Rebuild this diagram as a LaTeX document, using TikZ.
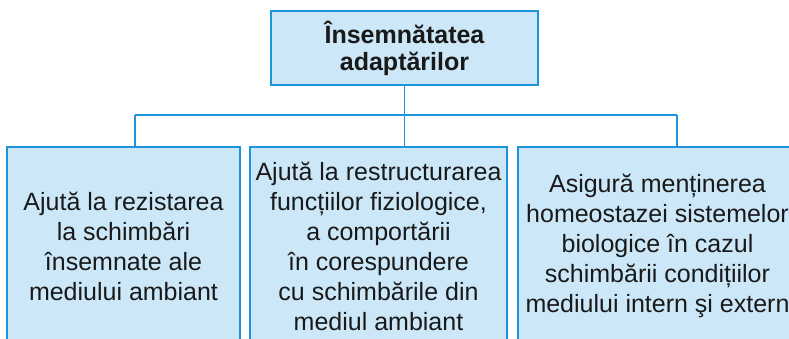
\documentclass[tikz,border=0pt]{standalone}
\usepackage{fontspec}
\setmainfont{Liberation Sans}
\definecolor{boxfill}{RGB}{204,232,248}
\definecolor{boxline}{RGB}{30,148,220}
\definecolor{txt}{RGB}{25,25,25}
\begin{document}
\begin{tikzpicture}[x=1pt,y=-1pt,
  box/.style={draw=boxline,fill=boxfill,line width=1.8pt,inner sep=0pt,align=center,text=txt},
  conn/.style={draw=boxline,line width=1.8pt},
  body/.style={font=\fontsize{25}{30}\selectfont}]
\useasboundingbox (0,0) rectangle (789,338);
\clip (0,0) rectangle (789,338);
\fill[white] (0,0) rectangle (789,338);
\node[box,minimum width=267pt,minimum height=74pt,font=\bfseries\fontsize{25}{27}\selectfont] (top) at (404.5,48) {Însemnătatea\\adaptărilor};
\node[box,body,minimum width=233pt,minimum height=198pt] (left) at (123.5,246) {Ajută la rezistarea\\la schimbări\\însemnate ale\\mediului ambiant};
\node[box,body,minimum width=257pt,minimum height=198pt] (mid) at (378.5,246) {Ajută la restructurarea\\funcțiilor fiziologice,\\a comportării\\în corespundere\\cu schimbările din\\mediul ambiant};
\node[box,body,minimum width=279pt,minimum height=198pt] (right) at (657.5,246) {Asigură menținerea\\homeostazei sistemelor\\biologice în cazul\\schimbării condițiilor\\mediului intern şi extern};
\coordinate (hl) at (135,115);
\coordinate (hr) at (677,115);
\draw[conn] (hl) -- (hr);
\draw[conn] (top.south) -- (top.south |- left.north);
\draw[conn] (hl) -- (hl |- left.north);
\draw[conn] (hr) -- (hr |- right.north);
\end{tikzpicture}
\end{document}
